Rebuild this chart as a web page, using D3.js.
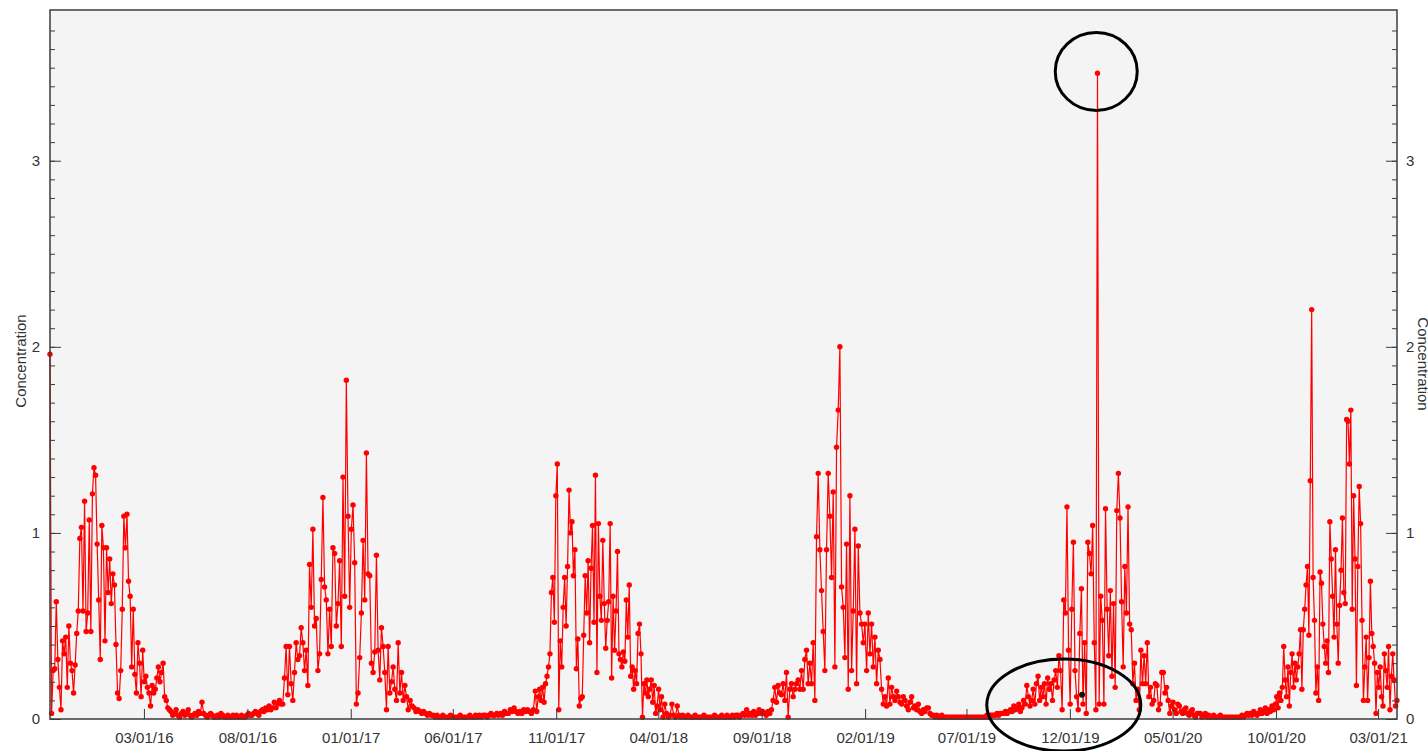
<!DOCTYPE html>
<html>
<head>
    <title>Concentration</title>
    <script src="https://d3js.org/d3.v7.min.js"></script>
</head>
<body>

	<style>
		body { margin:0; background:#fff; }
		#chart { display:block; }
	</style>

	<svg id="chart"></svg>

    <script>

		// each sampling run: start date, end date, readings (evenly spread between the two dates)
		const runDates = [
			"2015-10-14", "2016-04-10", "2016-09-15", "2017-03-27", "2017-10-01", "2018-04-08",
			"2018-09-13", "2019-05-13", "2019-09-14", "2020-06-11", "2020-09-30", "2021-03-31"
		];

		const season2015 = [1.96, 0.03, 0.26, 0.27, 0.63, 0.32, 0.17, 0.05, 0.42, 0.35, 0.44, 0.17, 0.50, 0.30, 0.26, 0.14, 0.29, 0.46, 0.58, 0.97, 1.03, 0.58, 1.17, 0.47, 0.57, 1.07, 0.47, 1.21, 1.35, 1.31, 0.94, 0.64, 0.32, 1.04, 0.92, 0.42, 0.92, 0.68, 0.86, 0.62, 0.78, 0.72, 0.40, 0.14, 0.11, 0.26, 0.59, 1.09, 0.92, 1.10, 0.74, 0.66, 0.28, 0.59, 0.24, 0.14, 0.41, 0.30, 0.12, 0.37, 0.20, 0.23, 0.17, 0.14, 0.07, 0.18, 0.14, 0.16, 0.22, 0.28, 0.20, 0.25, 0.30, 0.12, 0.10, 0.06, 0.05];
		const quiet2016 = [0.04, 0.02, 0.03, 0.05, 0.02, 0.01, 0.03, 0.04, 0.02, 0.03, 0.05, 0.02, 0.01, 0.02, 0.03, 0.02, 0.04, 0.03, 0.09, 0.03, 0.02, 0.01, 0.02, 0.03, 0.02, 0.01, 0.01, 0.02, 0.01, 0.03, 0.02, 0.01, 0.01, 0.02, 0.01, 0.01, 0.02, 0.01, 0.02, 0.01, 0.01, 0.02, 0.01, 0.01, 0.02, 0.03, 0.02, 0.02, 0.03, 0.04, 0.03, 0.02, 0.04, 0.05, 0.04, 0.06, 0.05, 0.07, 0.05, 0.06, 0.09, 0.06];
		const season2016 = [0.08, 0.10, 0.08, 0.08, 0.22, 0.39, 0.13, 0.39, 0.19, 0.10, 0.25, 0.41, 0.32, 0.34, 0.49, 0.41, 0.26, 0.37, 0.18, 0.83, 0.60, 1.02, 0.50, 0.54, 0.26, 0.35, 0.75, 1.19, 0.71, 0.64, 0.35, 0.59, 0.39, 0.92, 0.89, 0.50, 0.62, 0.85, 0.39, 1.30, 0.66, 1.82, 1.09, 0.60, 1.02, 1.15, 0.84, 0.08, 0.14, 0.33, 0.57, 0.96, 0.64, 1.43, 0.78, 0.77, 0.30, 0.25, 0.36, 0.88, 0.37, 0.21, 0.49, 0.39, 0.25, 0.05, 0.39, 0.14, 0.20, 0.28, 0.16, 0.10, 0.41, 0.14, 0.25, 0.10, 0.18, 0.12];
		const quiet2017 = [0.05, 0.10, 0.07, 0.06, 0.04, 0.05, 0.04, 0.03, 0.04, 0.03, 0.02, 0.03, 0.02, 0.02, 0.01, 0.02, 0.01, 0.01, 0.02, 0.01, 0.01, 0.01, 0.02, 0.01, 0.01, 0.01, 0.01, 0.02, 0.01, 0.01, 0.01, 0.01, 0.02, 0.01, 0.01, 0.02, 0.01, 0.02, 0.01, 0.02, 0.02, 0.01, 0.02, 0.03, 0.02, 0.02, 0.03, 0.02, 0.03, 0.02, 0.04, 0.03, 0.03, 0.05, 0.04, 0.06, 0.04, 0.03, 0.04, 0.03, 0.05, 0.04, 0.05, 0.04, 0.03, 0.05];
		const season2017 = [0.15, 0.04, 0.12, 0.16, 0.10, 0.17, 0.09, 0.19, 0.23, 0.28, 0.35, 0.68, 0.76, 0.52, 1.20, 1.37, 0.05, 0.42, 0.28, 0.60, 0.76, 0.50, 0.82, 1.23, 1.00, 1.06, 0.77, 0.91, 0.27, 0.43, 0.07, 0.11, 0.12, 0.45, 0.77, 0.57, 0.85, 0.41, 0.81, 1.04, 0.52, 1.31, 0.25, 1.05, 0.66, 0.53, 0.96, 0.62, 0.38, 0.53, 0.63, 1.05, 0.22, 0.66, 0.37, 0.58, 0.90, 0.35, 0.32, 0.28, 0.36, 0.31, 0.64, 0.44, 0.72, 0.23, 0.28, 0.16, 0.26, 0.19, 0.46, 0.51, 0.35, 0.01, 0.19, 0.14, 0.21, 0.12, 0.16, 0.21, 0.09, 0.18, 0.03, 0.07, 0.16, 0.05, 0.12];
		const quiet2018 = [0.01, 0.08, 0.03, 0.01, 0.02, 0.08, 0.02, 0.01, 0.07, 0.02, 0.01, 0.02, 0.01, 0.01, 0.02, 0.01, 0.01, 0.01, 0.02, 0.01, 0.01, 0.01, 0.01, 0.02, 0.01, 0.01, 0.01, 0.01, 0.01, 0.02, 0.01, 0.01, 0.01, 0.02, 0.01, 0.01, 0.02, 0.01, 0.01, 0.02, 0.01, 0.02, 0.02, 0.01, 0.02, 0.03, 0.02, 0.05, 0.02, 0.03, 0.02, 0.04, 0.02, 0.03, 0.05, 0.03, 0.04, 0.03, 0.02, 0.04];
		const season2018 = [0.03, 0.05, 0.10, 0.17, 0.09, 0.18, 0.14, 0.13, 0.19, 0.10, 0.25, 0.01, 0.16, 0.19, 0.12, 0.16, 0.19, 0.21, 0.16, 0.26, 0.16, 0.32, 0.37, 0.19, 0.30, 0.19, 0.41, 0.10, 0.98, 1.32, 0.91, 0.69, 0.47, 0.26, 0.91, 1.32, 1.09, 0.76, 1.22, 0.28, 1.46, 1.66, 2.00, 0.71, 0.60, 0.33, 0.94, 0.16, 1.20, 0.26, 0.58, 1.02, 0.19, 0.93, 0.57, 0.51, 0.41, 0.51, 0.26, 0.57, 0.35, 0.51, 0.28, 0.44, 0.19, 0.37, 0.32, 0.16, 0.08, 0.12, 0.07, 0.22, 0.08, 0.17, 0.12, 0.10, 0.15, 0.12, 0.09, 0.08, 0.12, 0.10, 0.07, 0.05, 0.09, 0.12, 0.06, 0.07, 0.05, 0.08, 0.04, 0.03, 0.05, 0.04, 0.06, 0.06, 0.03, 0.02];
		const quiet2019 = [0.02, 0.01, 0.02, 0.01, 0.01, 0.02, 0.01, 0.01, 0.01, 0.01, 0.01, 0.01, 0.01, 0.01, 0.01, 0.01, 0.01, 0.01, 0.01, 0.01, 0.01, 0.01, 0.01, 0.01, 0.01, 0.01, 0.01, 0.01, 0.01, 0.01, 0.01, 0.01, 0.02, 0.01, 0.02, 0.02, 0.02, 0.02, 0.03, 0.02, 0.03, 0.03, 0.03, 0.04, 0.03, 0.04, 0.05, 0.04, 0.07, 0.05];
		const season2019 = [0.06, 0.08, 0.04, 0.06, 0.10, 0.08, 0.18, 0.12, 0.07, 0.10, 0.16, 0.08, 0.19, 0.23, 0.10, 0.17, 0.12, 0.19, 0.08, 0.22, 0.16, 0.19, 0.10, 0.21, 0.26, 0.17, 0.34, 0.26, 0.05, 0.64, 0.57, 1.14, 0.37, 0.08, 0.59, 0.95, 0.26, 0.12, 0.05, 0.46, 0.70, 0.08, 0.41, 0.03, 0.95, 0.89, 0.78, 1.04, 0.41, 0.05, 3.47, 0.08, 0.66, 0.53, 0.08, 1.13, 0.59, 0.34, 0.69, 0.23, 0.62, 0.17, 1.12, 1.32, 1.08, 0.63, 0.28, 0.82, 0.57, 1.14, 0.51, 0.48, 0.19, 0.30, 0.10, 0.16, 0.05, 0.37, 0.19, 0.34, 0.19, 0.41, 0.12, 0.17, 0.08, 0.10, 0.19, 0.18, 0.05, 0.08, 0.25, 0.25, 0.14, 0.17, 0.10, 0.03, 0.07, 0.09, 0.05, 0.03, 0.08, 0.07, 0.04, 0.03, 0.05, 0.06, 0.03, 0.02, 0.04, 0.05, 0.02, 0.01, 0.03, 0.03];
		const quiet2020 = [0.03, 0.01, 0.02, 0.03, 0.01, 0.02, 0.01, 0.01, 0.02, 0.01, 0.01, 0.01, 0.02, 0.01, 0.01, 0.01, 0.01, 0.01, 0.01, 0.01, 0.01, 0.01, 0.01, 0.01, 0.01, 0.02, 0.01, 0.02, 0.03, 0.02, 0.03, 0.02, 0.04, 0.03, 0.02, 0.03, 0.05, 0.03, 0.04, 0.06, 0.03, 0.05, 0.04, 0.07, 0.05];
		const season2020 = [0.08, 0.12, 0.06, 0.14, 0.10, 0.17, 0.39, 0.21, 0.12, 0.28, 0.07, 0.25, 0.35, 0.17, 0.30, 0.21, 0.28, 0.35, 0.48, 0.16, 0.48, 0.59, 0.72, 0.82, 0.45, 1.28, 2.20, 0.76, 0.53, 0.14, 0.28, 0.10, 0.79, 0.73, 0.51, 0.39, 0.30, 0.42, 0.25, 1.06, 0.86, 0.66, 0.44, 0.91, 0.51, 0.30, 0.61, 0.80, 1.08, 0.68, 0.62, 1.61, 1.60, 1.37, 1.66, 0.59, 1.20, 0.86, 0.18, 0.82, 1.25, 1.05, 0.53, 0.10, 0.28, 0.44, 0.10, 0.33, 0.74, 0.46, 0.39, 0.30, 0.03, 0.25, 0.17, 0.28, 0.12, 0.07, 0.35, 0.26, 0.17, 0.39, 0.05, 0.23, 0.35, 0.21, 0.07, 0.10];

		const runs = [season2015, quiet2016, season2016, quiet2017, season2017, quiet2018,
			season2018, quiet2019, season2019, quiet2020, season2020];

		const tickLabels = ["03/01/16", "08/01/16", "01/01/17", "06/01/17", "11/01/17", "04/01/18", "09/01/18",
			"02/01/19", "07/01/19", "12/01/19", "05/01/20", "10/01/20", "03/01/21"];
		const yMajor = [0, 1, 2, 3];

		// circled spots (date, value) and the marked reading inside the lower one
		const circleDates = ["2020-01-09", "2019-11-22"];
		const circleValues = [3.48, 0.075];
		const markDate = "2019-12-19";
		const markValue = 0.13;

		const W = 1428, H = 751;
		const plotLeft = 50, plotRight = 1397, plotTop = 10, plotBottom = 719;
		const parseDay = d3.timeParse("%Y-%m-%d");
		const parseTick = d3.timeParse("%m/%d/%y");

		const points = [];
		runs.forEach((vals, i) => {
			// reading index -> time (ms) inside its run
			const t = d3.scaleLinear()
				.domain([0, vals.length])
				.range([+parseDay(runDates[i]), +parseDay(runDates[i + 1])]);
			vals.forEach((v, k) => points.push({ date: new Date(t(k)), value: v }));
		});

		const x = d3.scaleTime()
			.domain([parseDay("2015-10-14"), parseDay("2021-03-29")])
			.range([plotLeft, plotRight]);
		const y = d3.scaleLinear().domain([0, 3.81]).range([plotBottom, plotTop]);

		const svg = d3.select('#chart').attr('width', W).attr('height', H);

		svg.append('rect')
			.attr('x', plotLeft).attr('y', plotTop)
			.attr('width', plotRight - plotLeft).attr('height', plotBottom - plotTop)
			.attr('fill', '#f4f4f4');

		const line = d3.line().x(d => x(d.date)).y(d => y(d.value));
		svg.append('path')
			.datum(points)
			.attr('d', line)
			.attr('fill', 'none')
			.attr('stroke', '#ff0000')
			.attr('stroke-width', 1.2);

		svg.append('g').selectAll('circle')
			.data(points)
			.join('circle')
			.attr('cx', d => x(d.date))
			.attr('cy', d => y(d.value))
			.attr('r', 2.7)
			.attr('fill', '#ff0000');

		// axes, ticks pointing inward
		const minorVals = d3.range(0, 38).map(i => i / 10);
		const fontFam = '"Liberation Sans", Arial, sans-serif';

		function styleAxis(g) {
			g.select('.domain').remove();
			g.selectAll('line').attr('stroke', '#3c3c3c');
			g.selectAll('text').attr('fill', '#333').attr('font-size', '15px').attr('font-family', fontFam);
		}

		svg.append('g').attr('transform', `translate(${plotLeft},0)`)
			.call(d3.axisLeft(y).tickValues(minorVals).tickSize(-5).tickFormat(''))
			.call(styleAxis);
		svg.append('g').attr('transform', `translate(${plotLeft},0)`)
			.call(d3.axisLeft(y).tickValues(yMajor).tickSize(-11).tickPadding(10).tickFormat(d3.format('d')))
			.call(styleAxis);
		svg.append('g').attr('transform', `translate(${plotRight},0)`)
			.call(d3.axisRight(y).tickValues(minorVals).tickSize(-5).tickFormat(''))
			.call(styleAxis);
		svg.append('g').attr('transform', `translate(${plotRight},0)`)
			.call(d3.axisRight(y).tickValues(yMajor).tickSize(-11).tickPadding(9).tickFormat(d3.format('d')))
			.call(styleAxis);

		svg.append('g').attr('transform', `translate(0,${plotBottom})`)
			.call(d3.axisBottom(x).tickValues(tickLabels.map(parseTick)).tickSize(-10).tickPadding(13)
				.tickFormat(d3.timeFormat('%m/%d/%y')))
			.call(styleAxis);

		svg.append('rect')
			.attr('x', plotLeft).attr('y', plotTop)
			.attr('width', plotRight - plotLeft).attr('height', plotBottom - plotTop)
			.attr('fill', 'none')
			.attr('stroke', '#3c3c3c')
			.attr('stroke-width', 1.5);

		svg.append('text')
			.attr('transform', `translate(26,361) rotate(-90)`)
			.attr('text-anchor', 'middle')
			.attr('font-size', '15px').attr('font-family', fontFam).attr('fill', '#333')
			.text('Concentration');
		// the reference crops this title at the right edge of the picture
		svg.append('text')
			.attr('transform', `translate(1418,364) rotate(90)`)
			.attr('text-anchor', 'middle')
			.attr('font-size', '15px').attr('font-family', fontFam).attr('fill', '#333')
			.text('Concentration');

		// annotations
		const radii = [[41, 39], [77, 46]];
		circleDates.forEach((d, i) => {
			svg.append('ellipse')
				.attr('cx', x(parseDay(d)))
				.attr('cy', y(circleValues[i]))
				.attr('rx', radii[i][0]).attr('ry', radii[i][1])
				.attr('fill', 'none')
				.attr('stroke', '#000')
				.attr('stroke-width', 3);
		});
		svg.append('circle')
			.attr('cx', x(parseDay(markDate)))
			.attr('cy', y(markValue))
			.attr('r', 3)
			.attr('fill', '#111');

    </script>
</body>
</html>
